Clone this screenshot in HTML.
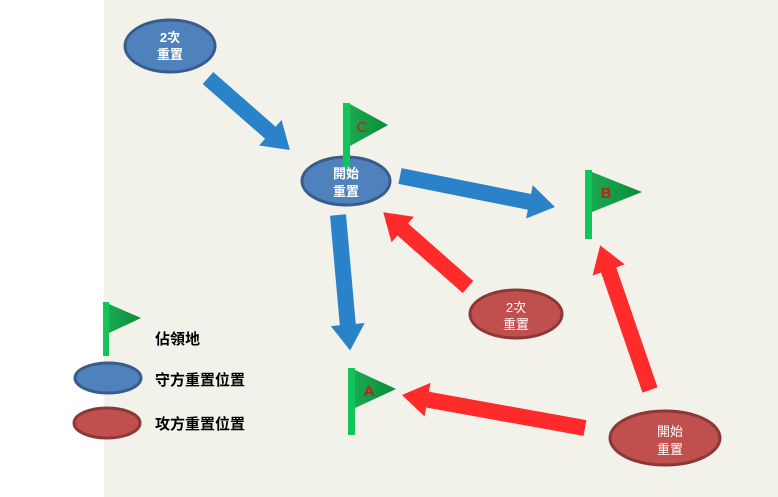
<!DOCTYPE html>
<html><head><meta charset="utf-8"><style>
html,body{margin:0;padding:0;width:778px;height:497px;overflow:hidden;background:#fff}
svg text{font-family:"Liberation Sans","Noto Sans CJK TC",sans-serif;}
</style></head><body>
<svg width="778" height="497" viewBox="0 0 778 497" xmlns="http://www.w3.org/2000/svg">
<rect x="104" y="0" width="674" height="497" fill="#f2f1ea"/>
<defs>
<linearGradient id="fg" x1="0" y1="0" x2="1" y2="0">
<stop offset="0" stop-color="#1aa850"/><stop offset="1" stop-color="#0a8c3a"/>
</linearGradient>
</defs>
<g fill="#2a83c9">
<g transform="translate(208,78) rotate(41.3)"><polygon points="0,-8 83,-8 83,-17 109,0 83,17 83,8 0,8"/></g>
<g transform="translate(400,176) rotate(11.3)"><polygon points="0,-8 132,-8 132,-17 158,0 132,17 132,8 0,8"/></g>
<g transform="translate(338,215) rotate(84.9)"><polygon points="0,-8 110,-8 110,-17 136,0 110,17 110,8 0,8"/></g>
</g>
<g fill="#ff2a2a">
<g transform="translate(468,287) rotate(221.4)"><polygon points="0,-8 87,-8 87,-17 113,0 87,17 87,8 0,8"/></g>
<g transform="translate(585,428) rotate(190.2)"><polygon points="0,-8 160,-8 160,-17 186,0 160,17 160,8 0,8"/></g>
<g transform="translate(650,390) rotate(251)"><polygon points="0,-8 127,-8 127,-17 153,0 127,17 127,8 0,8"/></g>
</g>
<g stroke-width="3">
<ellipse cx="170" cy="46" rx="45" ry="26" fill="#4f81bd" stroke="#385d8a"/>
<ellipse cx="516" cy="314" rx="46" ry="24" fill="#c0504d" stroke="#8c3836"/>
<ellipse cx="665" cy="438" rx="55" ry="27" fill="#c0504d" stroke="#8c3836"/>
<ellipse cx="108" cy="378" rx="33" ry="15" fill="#4f81bd" stroke="#385d8a"/>
<ellipse cx="107" cy="423" rx="33" ry="15" fill="#c0504d" stroke="#8c3836"/>
</g>
<polygon points="350,104 388,125 350,146" fill="url(#fg)"/>
<ellipse cx="346" cy="181" rx="44" ry="24" fill="#4f81bd" stroke="#385d8a" stroke-width="3"/>
<rect x="343" y="103" width="7" height="68" fill="#12c45a"/>
<text x="362" y="132" font-size="15" fill="#c0201a" text-anchor="middle">C</text>
<rect x="585" y="170" width="7" height="69" fill="#12c45a"/>
<polygon points="592,172 642,192 592,212" fill="url(#fg)"/>
<text x="606" y="198" font-size="15" font-weight="bold" fill="#c0201a" text-anchor="middle">B</text>
<rect x="348" y="368" width="7" height="67" fill="#12c45a"/>
<polygon points="355,370 396,389 355,408" fill="url(#fg)"/>
<text x="369" y="396" font-size="15" font-weight="bold" fill="#c0201a" text-anchor="middle">A</text>
<rect x="103" y="302" width="6" height="54" fill="#12c45a"/>
<polygon points="109,304 141,318 109,333" fill="url(#fg)"/>
<g fill="#fff" font-size="13" font-weight="bold" text-anchor="middle">
<text x="170" y="42">2次</text><text x="170" y="59">重置</text>
<text x="346" y="178">開始</text><text x="346" y="196">重置</text>
</g>
<g fill="#fff" font-size="13" text-anchor="middle">
<text x="516" y="312">2次</text><text x="516" y="329">重置</text>
<text x="670" y="436">開始</text><text x="670" y="454">重置</text>
</g>
<g fill="#000" font-size="15" font-weight="bold">
<text x="155" y="344">佔領地</text>
<text x="155" y="385">守方重置位置</text>
<text x="155" y="429">攻方重置位置</text>
</g>
</svg>
</body></html>
